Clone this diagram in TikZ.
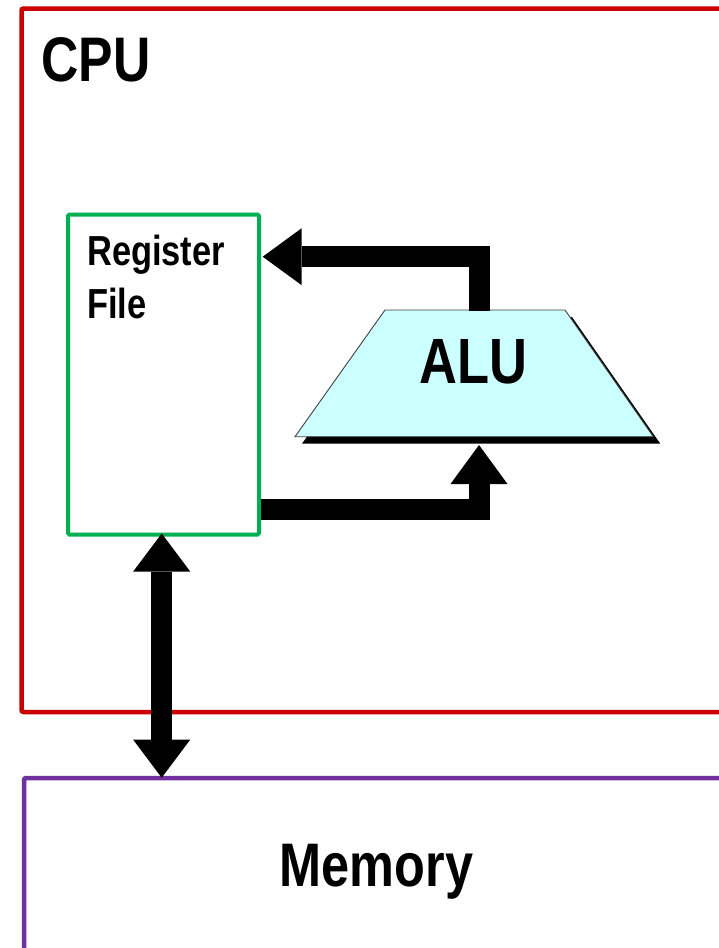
\documentclass[tikz,border=0pt]{standalone}
\usepackage{fontspec}
\usetikzlibrary{arrows.meta,calc}
\newfontfamily\labfont{Liberation Sans}[FakeStretch=0.82]
\definecolor{cpured}{RGB}{204,0,0}
\definecolor{rfgreen}{RGB}{0,176,80}
\definecolor{mempurple}{RGB}{112,48,160}
\definecolor{alucyan}{RGB}{204,255,255}
\tikzset{
  frame/.style={draw, line width=4.5pt, rounded corners=2pt, inner sep=0pt, outer sep=0pt},
  label/.style={inner sep=0pt, font=\labfont\bfseries},
  bigarrow/.style={line width=21pt, line join=miter,
    -{Triangle[width=57pt,length=39pt,line width=0pt]}},
  bigdarrow/.style={line width=21pt,
    {Triangle[width=57pt,length=38pt,line width=0pt]}-{Triangle[width=57pt,length=38pt,line width=0pt]}},
}
\begin{document}
\begin{tikzpicture}[x=1pt,y=-1pt]
\path[use as bounding box, clip] (0,0) rectangle (719,948);

% CPU enclosure
\node[frame, draw=cpured, minimum width=718.5pt, minimum height=703.5pt, anchor=north west]
  (cpu) at (21.5,8.5) {};
\node[label, anchor=base west, font=\labfont\bfseries\fontsize{63}{63}\selectfont]
  (cpulabel) at (41.5,81) {CPU};

% Memory
\node[frame, draw=mempurple, minimum width=716pt, minimum height=200pt, anchor=north west]
  (mem) at (24,778) {};
\node[label, anchor=base, font=\labfont\bfseries\fontsize{61.5}{61.5}\selectfont]
  (memlabel) at (376.5,886) {Memory};

% Register file
\node[frame, draw=rfgreen, line width=4pt, rounded corners=1.5pt,
      minimum width=191pt, minimum height=320pt, anchor=north west]
  (rf) at (68,214.5) {};
\node[label, anchor=base west, align=left,
      font=\labfont\bfseries\fontsize{42}{53}\selectfont]
  (rflabel) at (87,318) {Register\\File};

% ALU: drop shadow, trapezoid body and label
\fill[black] (392,317) -- (572,317) -- (660.3,443.7) -- (302,443.7) -- cycle;
\filldraw[fill=alucyan, draw=black!75, line width=0.9pt]
  (385,310) -- (565,310) -- (653.3,436.7) -- (295,436.7) -- cycle;
\node[label, anchor=base, font=\labfont\bfseries\fontsize{64}{64}\selectfont]
  (alu) at (473.5,383) {ALU};

% connector end points
\coordinate (alutop) at (479,310.5);
\coordinate (alubot) at (479,445);
\coordinate (rfin)   at ($(rf.east)+(3.7,-117.8)$);
\coordinate (rfout)  at ($(rf.east)+(1.5,135)$);
\coordinate (rfbus)  at ($(rf.south)+(-1.8,-1)$);
\coordinate (membus) at ($(mem.north)+(-220.3,-0.3)$);

% data paths
\draw[bigarrow] (alutop) |- (rfin);
\draw[bigarrow] (rfout) -| (alubot);
\draw[bigdarrow] (rfbus) -- (membus);
\end{tikzpicture}
\end{document}
